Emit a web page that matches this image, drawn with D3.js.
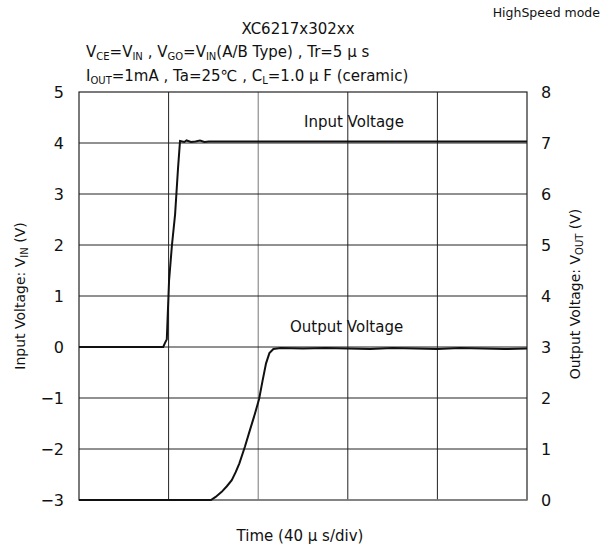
<!DOCTYPE html>
<html><head><meta charset="utf-8">
<script src="https://cdn.jsdelivr.net/npm/d3@7"></script>
<style>body{margin:0;background:#fff}svg{display:block}text{font-family:"DejaVu Sans",sans-serif;fill:#111}</style>
</head><body><svg id="c" width="608" height="549"></svg>
<script>
// Data (time in µs, voltages in V)
const timeTicks = [0, 40, 80, 120, 160, 200];
const leftTicks = [-3, -2, -1, 0, 1, 2, 3, 4, 5];
const rightTicks = [0, 1, 2, 3, 4, 5, 6, 7, 8];
const inputT = [0, 37.6, 38.4, 39.2, 40.2, 41.5, 42.9, 44.2, 45.1, 47, 48, 50, 52, 54, 56, 58, 60, 80, 120, 160, 200];
const inputV = [0, 0, 0.08, 0.15, 1.3, 2.0, 2.6, 3.5, 4.04, 4.02, 4.05, 4.02, 4.03, 4.05, 4.02, 4.03, 4.03, 4.03, 4.03, 4.03, 4.03];
const outputT = [0, 58.9, 61, 63.7, 66, 68.2, 70, 71.6, 74.1, 76.3, 78.6, 80.4, 82, 83.5, 85, 86.8, 90, 100, 110, 120, 130, 140, 150, 160, 170, 180, 190, 200];
const outputV = [0, 0, 0.06, 0.16, 0.27, 0.39, 0.55, 0.72, 1.05, 1.37, 1.7, 1.98, 2.35, 2.68, 2.88, 2.96, 2.98, 2.97, 2.98, 2.97, 2.96, 2.98, 2.97, 2.96, 2.98, 2.97, 2.96, 2.97];

const svg = d3.select("#c");
const L = 79, R = 527, T = 92, B = 500;
const x = d3.scaleLinear().domain([0, 200]).range([L, R]);
const yL = d3.scaleLinear().domain([-3, 5]).range([B, T]);
const yR = d3.scaleLinear().domain([0, 8]).range([B, T]);

// grid
const g = svg.append("g");
g.selectAll(".vg").data(timeTicks.slice(1, -1)).join("line")
  .attr("x1", d => x(d)).attr("x2", d => x(d)).attr("y1", T).attr("y2", B)
  .attr("stroke", (d,i) => i === 1 ? "#777" : "#222").attr("stroke-width", 1);
g.selectAll(".hg").data(leftTicks.slice(1, -1)).join("line")
  .attr("x1", L).attr("x2", R).attr("y1", d => yL(d)).attr("y2", d => yL(d))
  .attr("stroke", "#222").attr("stroke-width", 1);
svg.append("rect").attr("x", L).attr("y", T).attr("width", R - L).attr("height", B - T)
  .attr("fill", "none").attr("stroke", "#222").attr("stroke-width", 1.2);
svg.append("line").attr("x1", L).attr("x2", R).attr("y1", B).attr("y2", B).attr("stroke", "#888").attr("stroke-width", 1.5);

// tick labels
svg.selectAll(".lt").data(leftTicks).join("text")
  .attr("x", 64).attr("y", d => yL(d) + 6).attr("text-anchor", "end")
  .style("font-size", "16px").text(d => d < 0 ? "\u2212" + Math.abs(d) : d);
svg.selectAll(".rt").data(rightTicks).join("text")
  .attr("x", 541).attr("y", d => yR(d) + 6).attr("text-anchor", "start")
  .style("font-size", "16px").text(d => d);

// lines
const inputData = inputT.map((t, i) => [t, inputV[i]]);
const outputData = outputT.map((t, i) => [t, outputV[i]]);
svg.append("path").datum(inputData)
  .attr("d", d3.line().x(d => x(d[0])).y(d => yL(d[1])))
  .attr("fill", "none").attr("stroke", "#111").attr("stroke-width", 2);
svg.append("path").datum(outputData)
  .attr("d", d3.line().x(d => x(d[0])).y(d => yR(d[1])))
  .attr("fill", "none").attr("stroke", "#111").attr("stroke-width", 2);

// in-plot labels
svg.append("text").attr("x", 304).attr("y", 127).style("font-size", "15px").text("Input Voltage");
svg.append("text").attr("x", 290).attr("y", 332).style("font-size", "15px").text("Output Voltage");

// titles
svg.append("text").attr("x", 600).attr("y", 17).attr("text-anchor", "end").style("font-size", "12.5px").text("HighSpeed mode");
svg.append("text").attr("x", 298).attr("y", 34).attr("text-anchor", "middle").style("font-size", "15px").text("XC6217x302xx");

function richText(el, parts) {
  let shifted = false;
  parts.forEach(p => {
    if (typeof p === "string") {
      const ts = el.append("tspan").text(p);
      if (shifted) { ts.attr("dy", -3); shifted = false; }
    } else {
      el.append("tspan").attr("dy", 3).style("font-size", "10px").text(p.s);
      shifted = true;
    }
  });
  return el;
}
richText(svg.append("text").attr("x", 86).attr("y", 57).style("font-size", "15px"),
  ["V", {s: "CE"}, "=V", {s: "IN"}, " , V", {s: "GO"}, "=V", {s: "IN"}, "(A/B Type) , Tr=5 \u03bc s"]);
richText(svg.append("text").attr("x", 86).attr("y", 81).style("font-size", "15px"),
  ["I", {s: "OUT"}, "=1mA , Ta=25\u2103 , C", {s: "L"}, "=1.0 \u03bc F (ceramic)"]);

// axis titles
richText(svg.append("text").attr("transform", "translate(25,296) rotate(-90)").attr("text-anchor", "middle").style("font-size", "14px"),
  ["Input Voltage: V", {s: "IN"}, " (V)"]);
richText(svg.append("text").attr("transform", "translate(580,294) rotate(-90)").attr("text-anchor", "middle").style("font-size", "14px"),
  ["Output Voltage: V", {s: "OUT"}, " (V)"]);
svg.append("text").attr("x", 300).attr("y", 541).attr("text-anchor", "middle").style("font-size", "15px").text("Time (40 \u03bc s/div)");
</script></body></html>
